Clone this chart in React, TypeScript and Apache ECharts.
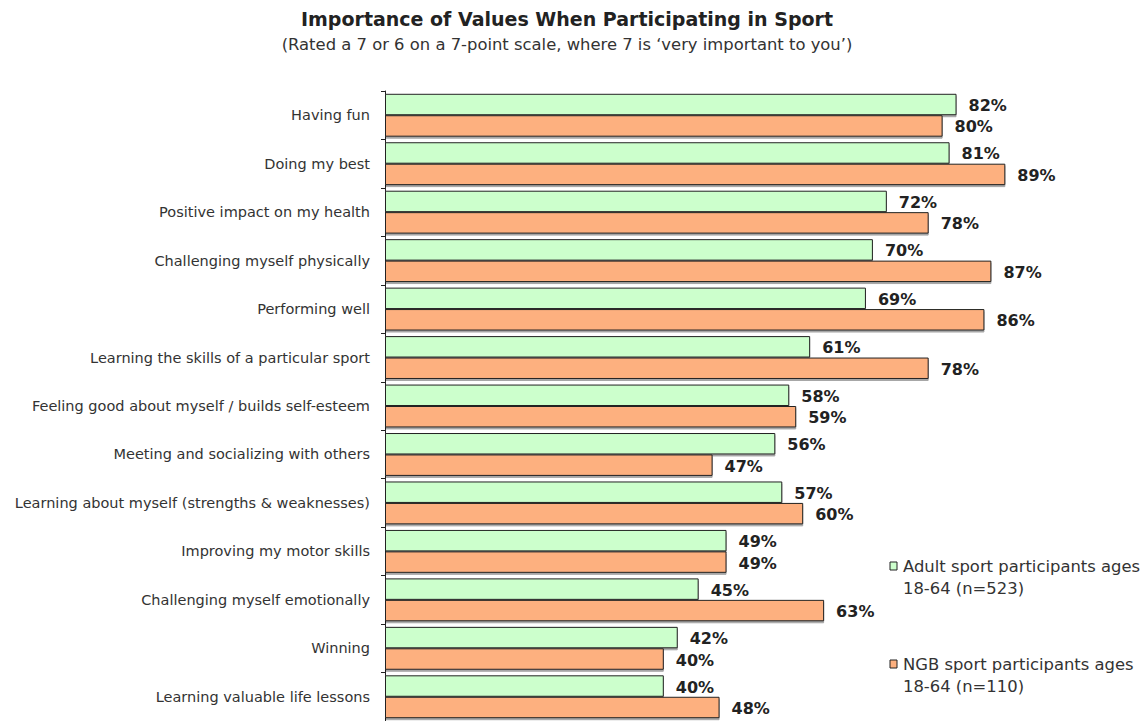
import React, { useEffect, useRef } from "react";
import * as echarts from "echarts";

const categories = [
  "Having fun",
  "Doing my best",
  "Positive impact on my health",
  "Challenging myself physically",
  "Performing well",
  "Learning the skills of a particular sport",
  "Feeling good about myself / builds self-esteem",
  "Meeting and socializing with others",
  "Learning about myself (strengths & weaknesses)",
  "Improving my motor skills",
  "Challenging myself emotionally",
  "Winning",
  "Learning valuable life lessons",
];
const adultValues = [82, 81, 72, 70, 69, 61, 58, 56, 57, 49, 45, 42, 40];
const ngbValues = [80, 89, 78, 87, 86, 78, 59, 47, 60, 49, 63, 40, 48];
const seriesNames = [
  "Adult sport participants ages 18-64 (n=523)",
  "NGB sport participants ages 18-64 (n=110)",
];
const legendLines = [
  "Adult sport participants ages\n18-64 (n=523)",
  "NGB sport participants ages\n18-64 (n=110)",
];
const colors = ["#ccffcc", "#fdb07f"];
const FONT = "DejaVu Sans";

export default function App() {
  const ref = useRef<HTMLDivElement>(null);
  useEffect(() => {
    if (!ref.current) return;
    const chart = echarts.init(ref.current, null, { renderer: "svg" });
    const label = {
      show: true,
      position: "right" as const,
      distance: 12,
      offset: [0, 1],
      formatter: "{c}%",
      fontFamily: FONT,
      fontWeight: "bold" as const,
      fontSize: 16,
      color: "#222",
    };
    const itemStyle = (c: string) => ({
      color: c,
      borderColor: "#222",
      borderWidth: 1,
      shadowColor: "rgba(0,0,0,0.35)",
      shadowBlur: 1,
      shadowOffsetY: 2,
    });
    chart.setOption({
      animation: false,
      backgroundColor: "#fff",
      title: {
        text: "Importance of Values When Participating in Sport",
        subtext: "(Rated a 7 or 6 on a 7-point scale, where 7 is \u2018very important to you\u2019)",
        left: 562,
        textAlign: "center",
        top: 4,
        itemGap: 8,
        textStyle: { fontFamily: FONT, fontWeight: "bold", fontSize: 19, color: "#222" },
        subtextStyle: { fontFamily: FONT, fontSize: 16.4, color: "#333" },
      },
      grid: { left: 385, right: 65, top: 91, height: 632, containLabel: false },
      xAxis: { type: "value", min: 0, max: 100, show: false },
      yAxis: {
        type: "category",
        data: categories,
        inverse: true,
        axisLine: { show: true, lineStyle: { color: "#222", width: 1 } },
        axisTick: { show: true, length: 4, lineStyle: { color: "#222" } },
        axisLabel: { margin: 15, fontFamily: FONT, fontSize: 14.5, color: "#333" },
        splitLine: { show: false },
      },
      series: [
        {
          name: seriesNames[0],
          type: "bar",
          data: adultValues,
          barGap: "0%",
          barCategoryGap: "11.5%",
          itemStyle: itemStyle(colors[0]),
          label,
        },
        {
          name: seriesNames[1],
          type: "bar",
          data: ngbValues,
          barGap: "0%",
          barCategoryGap: "11.5%",
          itemStyle: itemStyle(colors[1]),
          label,
        },
      ],
      graphic: [
        {
          type: "rect",
          shape: { x: 890, y: 562, width: 7, height: 8 },
          style: { fill: colors[0], stroke: "#222", lineWidth: 1 },
        },
        {
          type: "text",
          x: 903,
          y: 556,
          style: {
            text: legendLines[0],
            fontFamily: FONT,
            fontSize: 16.4,
            lineHeight: 21.5,
            fill: "#333",
          },
        },
        {
          type: "rect",
          shape: { x: 890, y: 660, width: 7, height: 8 },
          style: { fill: colors[1], stroke: "#222", lineWidth: 1 },
        },
        {
          type: "text",
          x: 903,
          y: 654,
          style: {
            text: legendLines[1],
            fontFamily: FONT,
            fontSize: 16.4,
            lineHeight: 21.5,
            fill: "#333",
          },
        },
      ],
    });
    return () => chart.dispose();
  }, []);
  return (
    <div
      ref={ref}
      style={{ position: "absolute", left: 0, top: 0, width: 1147, height: 721 }}
    />
  );
}
